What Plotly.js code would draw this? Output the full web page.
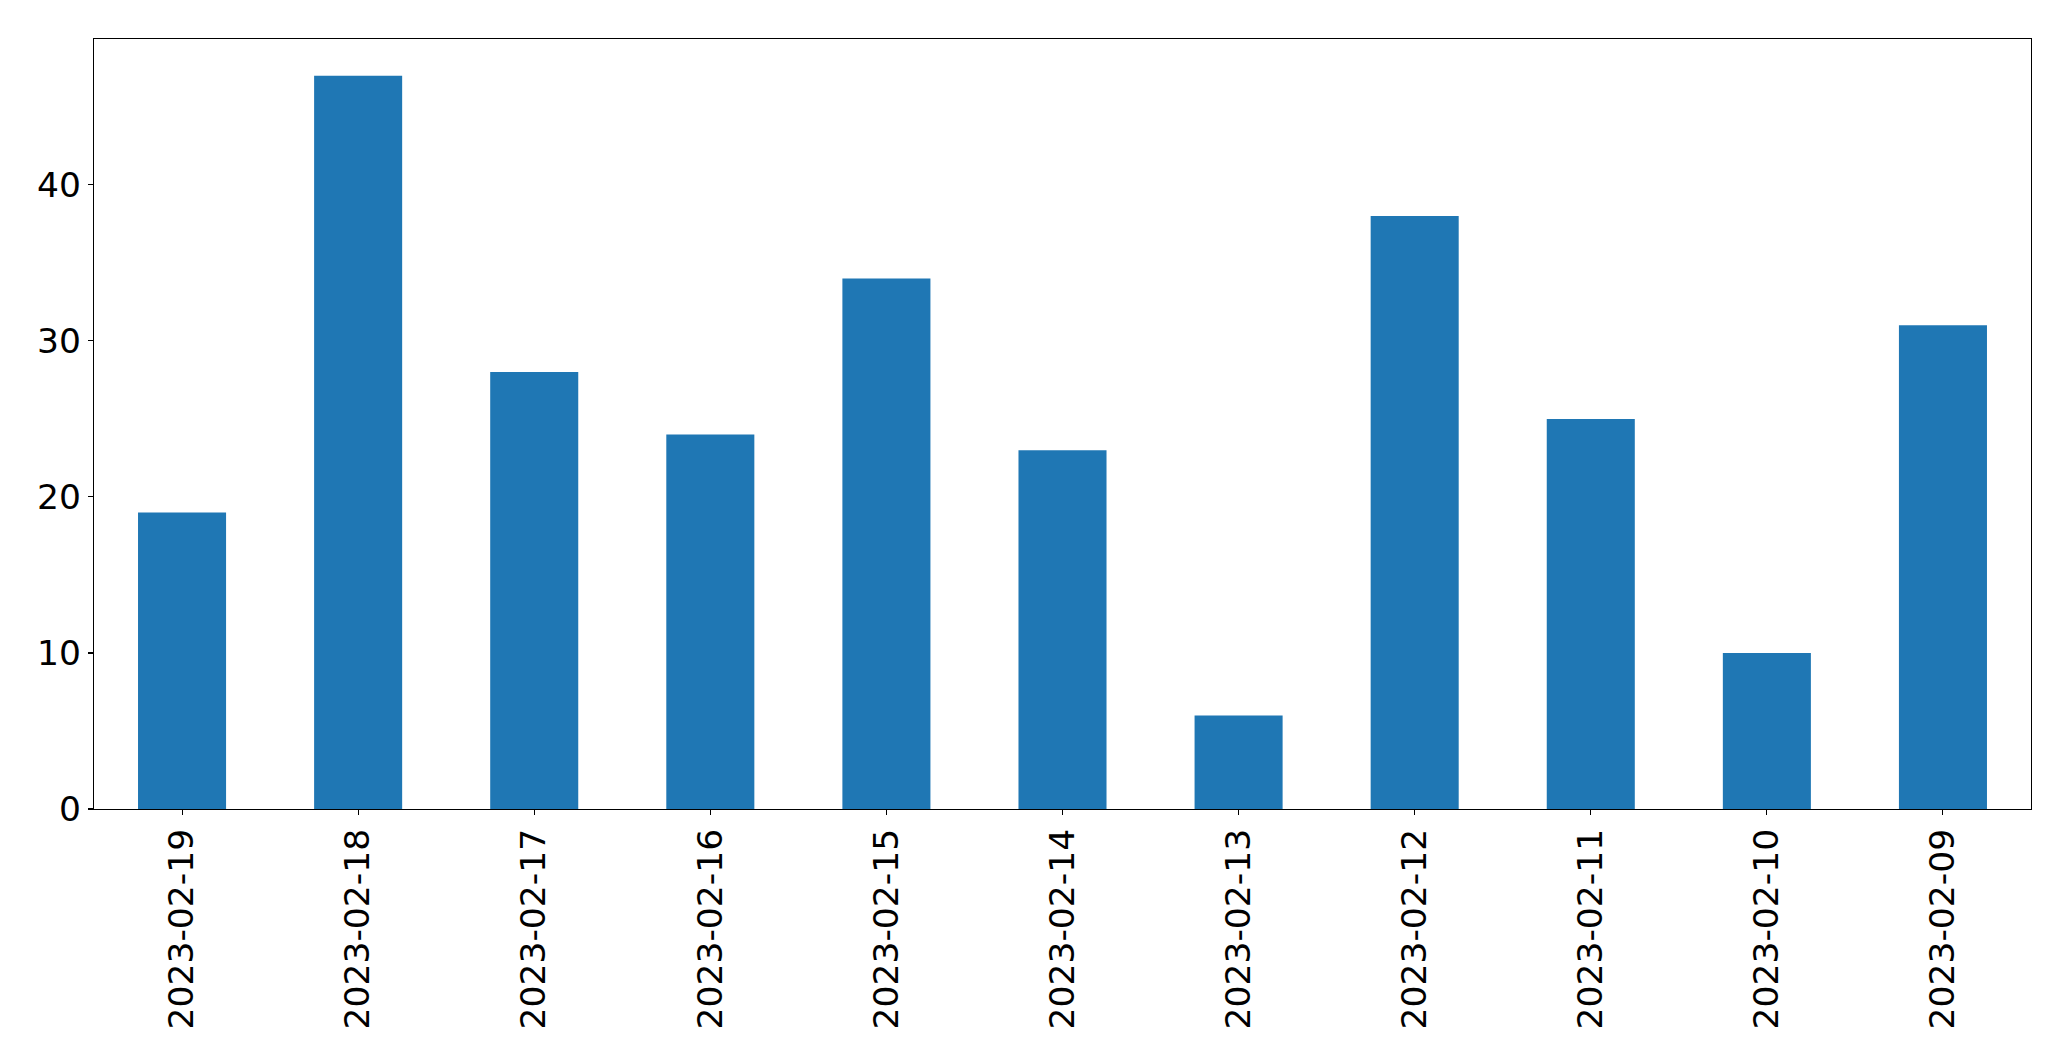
<!DOCTYPE html>
<html>
<head>
<meta charset="utf-8">
<script src="https://cdn.plot.ly/plotly-3.0.1.min.js"></script>
<style>
html,body{margin:0;padding:0;background:#fff;}
#chart{width:2071px;height:1061px;}
</style>
</head>
<body>
<div id="chart"></div>
<script>
const dates = ["2023-02-19","2023-02-18","2023-02-17","2023-02-16","2023-02-15","2023-02-14","2023-02-13","2023-02-12","2023-02-11","2023-02-10","2023-02-09"];
const counts = [19, 47, 28, 24, 34, 23, 6, 38, 25, 10, 31];
const yTicks = [0, 10, 20, 30, 40];

const trace = {
  type: 'bar',
  x: dates,
  y: counts,
  width: 0.5,
  marker: {color: '#1f77b4', line: {width: 0}},
  hoverinfo: 'x+y'
};

const layout = {
  width: 2071,
  height: 1061,
  margin: {l: 94, r: 40, t: 39, b: 252, pad: 0},
  paper_bgcolor: '#ffffff',
  plot_bgcolor: '#ffffff',
  showlegend: false,
  font: {family: 'DejaVu Sans', size: 34, color: '#000000'},
  xaxis: {
    type: 'category',
    range: [-0.5, dates.length - 0.5],
    tickangle: -90,
    ticks: 'outside',
    ticklen: 5,
    tickwidth: 1.1,
    tickcolor: '#000',
    showline: true,
    linecolor: '#000',
    linewidth: 1.1,
    mirror: true,
    showgrid: false,
    zeroline: false,
    tickfont: {family: 'DejaVu Sans', size: 34.5, color: '#000'}
  },
  yaxis: {
    range: [0, Math.max(...counts) * 1.05],
    tickmode: 'array',
    tickvals: yTicks,
    ticktext: yTicks.map(String),
    ticks: 'outside',
    ticklen: 5,
    tickwidth: 1.1,
    tickcolor: '#000',
    showline: true,
    linecolor: '#000',
    linewidth: 1.1,
    mirror: true,
    showgrid: false,
    zeroline: false,
    tickfont: {family: 'DejaVu Sans', size: 34.5, color: '#000'}
  }
};

Plotly.newPlot('chart', [trace], layout, {displayModeBar: false, staticPlot: true});
</script>
</body>
</html>
